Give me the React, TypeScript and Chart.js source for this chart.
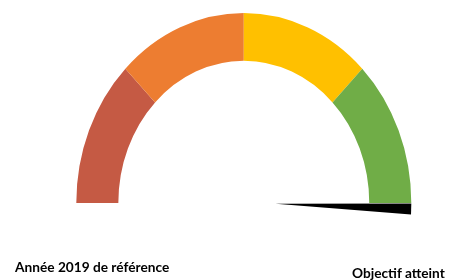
import React, { useEffect, useRef } from "react";
import { Chart, registerables } from "chart.js";

Chart.register(...registerables);

const segmentLabels = ["Rouge", "Orange", "Jaune", "Vert"];
const segmentValues = [25, 25, 25, 25];
const segmentColors = ["#C55A44", "#ED7D31", "#FFC000", "#70AD47"];
const needleValue = 100; // position on a 0–100 scale
const leftLabel = "Année 2019 de référence";
const rightLabel = "Objectif atteint";

const STRETCH = 1.134;

const gaugePlugin = {
  id: "gaugeStretch",
  beforeDatasetsDraw(chart: any) {
    const arc = chart.getDatasetMeta(0).data[0];
    if (!arc) return;
    const ctx = chart.ctx;
    ctx.save();
    ctx.translate(0, arc.y);
    ctx.scale(1, STRETCH);
    ctx.translate(0, -arc.y);
  },
  afterDatasetsDraw(chart: any) {
    const arc = chart.getDatasetMeta(0).data[0];
    if (!arc) return;
    const ctx = chart.ctx;
    const total = segmentValues.reduce((a, b) => a + b, 0);
    const theta = -Math.PI + (needleValue / total) * Math.PI;
    const delta = (3.3 * Math.PI) / 180;
    const R = arc.outerRadius;
    const r0 = R * 0.19;
    const cx = arc.x;
    const cy = arc.y;
    ctx.beginPath();
    ctx.moveTo(cx + r0 * Math.cos(theta), cy + r0 * Math.sin(theta) + 0.6);
    ctx.lineTo(cx + R * Math.cos(theta), cy + R * Math.sin(theta) + 0.5);
    ctx.lineTo(cx + R * Math.cos(theta + delta), cy + R * Math.sin(theta + delta) + 0.5);
    ctx.closePath();
    ctx.fillStyle = "#000";
    ctx.fill();
    ctx.restore();
  },
};

export default function App() {
  const ref = useRef<HTMLCanvasElement | null>(null);
  useEffect(() => {
    if (!ref.current) return;
    const chart = new Chart(ref.current, {
      type: "doughnut",
      data: {
        labels: segmentLabels,
        datasets: [
          {
            data: segmentValues,
            backgroundColor: segmentColors,
            borderWidth: 0,
            clip: false as any,
          } as any,
        ],
      },
      options: {
        responsive: false,
        animation: false,
        rotation: -90,
        circumference: 180,
        cutout: "74.9%",
        layout: { padding: { left: 76.3, right: 37.7, top: 35.5, bottom: 77 } },
        plugins: { legend: { display: false }, tooltip: { enabled: false } },
        events: [],
      },
      plugins: [gaugePlugin],
    });
    return () => chart.destroy();
  }, []);

  const textStyle: React.CSSProperties = {
    position: "absolute",
    fontFamily: "Lato, 'Open Sans', sans-serif",
    fontWeight: 700,
    fontSize: 13.7,
    color: "#000",
    whiteSpace: "nowrap",
    lineHeight: "16px",
  };

  return (
    <div style={{ position: "fixed", left: 0, top: 0, width: 449, height: 280, background: "#fff", overflow: "hidden" }}>
      <canvas ref={ref} width={449} height={280} style={{ position: "absolute", left: 0, top: 0 }} />
      <div style={{ ...textStyle, left: 15, top: 259 }}>{leftLabel}</div>
      <div style={{ ...textStyle, left: 352, top: 264.5 }}>{rightLabel}</div>
    </div>
  );
}
